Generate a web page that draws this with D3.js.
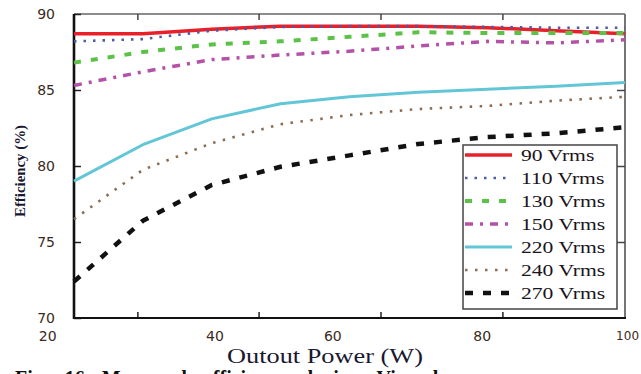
<!DOCTYPE html>
<html>
<head>
<meta charset="utf-8">
<script src="https://cdn.jsdelivr.net/npm/d3@7"></script>
<style>
  body { margin: 0; background: #fff; }
  svg { display: block; }
</style>
</head>
<body>
<div id="chart"></div>
<script>
// measured output power points (W)
const power = [20, 30, 40, 50, 60, 70, 80, 90, 100];

// efficiency (%) per input voltage
const eff90 = [88.7, 88.7, 89.0, 89.2, 89.2, 89.2, 89.1, 88.9, 88.7];
const eff110 = [88.2, 88.35, 88.9, 89.15, 89.2, 89.2, 89.15, 89.1, 89.1];
const eff130 = [86.8, 87.5, 88.0, 88.2, 88.5, 88.8, 88.75, 88.75, 88.75];
const eff150 = [85.3, 86.2, 87.0, 87.3, 87.55, 87.9, 88.2, 88.1, 88.3];
const eff220 = [79.0, 81.4, 83.1, 84.1, 84.55, 84.85, 85.05, 85.25, 85.5];
const eff240 = [76.5, 79.75, 81.5, 82.75, 83.35, 83.75, 83.95, 84.3, 84.55];
const eff270 = [72.4, 76.4, 78.75, 79.95, 80.7, 81.45, 81.9, 82.15, 82.55];

const seriesNames = ['90 Vrms', '110 Vrms', '130 Vrms', '150 Vrms', '220 Vrms', '240 Vrms', '270 Vrms'];

// tick labels (and where the scan put them), tick marks
const xLabels = ['20', '40', '60', '80', '100'];
const xLabelPos = [16.1, 40.4, 57.5, 79.2, 100.3];
const xMarks = [29.2, 46.8, 64.5, 82.2];
const yLabels = [70, 75, 80, 85, 90];
const yMarks = [75, 80, 85];

const styles = [
    { color: '#e8202a', width: 3.5, dash: null },
    { color: '#4b5ba5', width: 2.6, dash: '2.5,7' },
    { color: '#5cc247', width: 4, dash: '7,10' },
    { color: '#b452a8', width: 3.5, dash: '8,7,3,7' },
    { color: '#62c6d6', width: 3, dash: null },
    { color: '#8c6c55', width: 2.6, dash: '2.5,7.5' },
    { color: '#111111', width: 4.5, dash: '8,10' }
];
const allSeries = [eff90, eff110, eff130, eff150, eff220, eff240, eff270];

const W = 641, H = 374;
const svg = d3.select('#chart').append('svg')
    .attr('width', W)
    .attr('height', H);

const x = d3.scaleLinear().domain([20, 100]).range([74, 625]);
const y = d3.scaleLinear().domain([70, 90]).range([318, 14]);

// frame: light top/right, heavy left/bottom
svg.append('line').attr('x1', x(20)).attr('x2', x(100)).attr('y1', y(90)).attr('y2', y(90))
    .attr('stroke', '#666').attr('stroke-width', 1.6);
svg.append('line').attr('x1', x(100)).attr('x2', x(100)).attr('y1', y(90)).attr('y2', y(70))
    .attr('stroke', '#666').attr('stroke-width', 1.8);

// top and right tick marks (inward)
svg.append('g')
    .attr('transform', `translate(0,${y(90)})`)
    .call(d3.axisTop(x).tickValues(xMarks).tickSizeInner(-6).tickSizeOuter(0).tickFormat(''))
    .call(g => g.select('.domain').remove())
    .call(g => g.selectAll('.tick line').attr('stroke', '#444').attr('stroke-width', 1.5));
svg.append('g')
    .attr('transform', `translate(${x(100)},0)`)
    .call(d3.axisRight(y).tickValues(yMarks).tickSizeInner(-8).tickSizeOuter(0).tickFormat(''))
    .call(g => g.select('.domain').remove())
    .call(g => g.selectAll('.tick line').attr('stroke', '#444').attr('stroke-width', 1.5));

// bottom tick marks
svg.append('g')
    .attr('transform', `translate(0,${y(70)})`)
    .call(d3.axisBottom(x).tickValues(xMarks).tickSizeInner(-6).tickSizeOuter(0).tickFormat(''))
    .call(g => g.select('.domain').remove())
    .call(g => g.selectAll('.tick line').attr('stroke', '#222').attr('stroke-width', 1.5));

// bottom labels
svg.append('g')
    .attr('transform', `translate(0,${y(70)})`)
    .call(d3.axisBottom(x).tickValues(xLabelPos).tickSize(0).tickPadding(13)
        .tickFormat((d, i) => xLabels[i]))
    .call(g => g.select('.domain').remove())
    .call(g => g.selectAll('.tick text')
        .attr('font-family', 'DejaVu Sans, sans-serif')
        .attr('font-size', (d, i) => i === 4 ? 12 : 14)
        .attr('fill', '#3a2a20'));

// left axis
svg.append('g')
    .attr('transform', `translate(${x(20)},0)`)
    .call(d3.axisLeft(y).tickValues(yLabels).tickSizeInner(-7).tickSizeOuter(0).tickPadding(19))
    .call(g => g.select('.domain').remove())
    .call(g => g.selectAll('.tick line').attr('stroke', '#222').attr('stroke-width', 1.5))
    .call(g => g.selectAll('.tick text')
        .attr('font-family', 'DejaVu Sans, sans-serif')
        .attr('font-size', 14)
        .attr('fill', '#3a2a20'));

// heavy left / bottom lines
svg.append('line').attr('x1', x(20)).attr('x2', x(20)).attr('y1', y(90)).attr('y2', y(70) + 1)
    .attr('stroke', '#111').attr('stroke-width', 2.6);
svg.append('line').attr('x1', x(20)).attr('x2', x(100) + 1).attr('y1', y(70)).attr('y2', y(70))
    .attr('stroke', '#111').attr('stroke-width', 2.2);

// curves
const line = d3.line()
    .x((d, i) => x(power[i]))
    .y(d => y(d));

allSeries.forEach((s, i) => {
    svg.append('path')
        .datum(s)
        .attr('fill', 'none')
        .attr('stroke', styles[i].color)
        .attr('stroke-width', styles[i].width)
        .attr('stroke-dasharray', styles[i].dash)
        .attr('stroke-linejoin', 'round')
        .attr('d', line);
});

// legend
const legend = svg.append('g');
legend.append('rect')
    .attr('x', 463).attr('y', 145)
    .attr('width', 154).attr('height', 164)
    .attr('fill', '#fff')
    .attr('stroke', '#444')
    .attr('stroke-width', 1.5);

seriesNames.forEach((name, i) => {
    const ly = 155 + i * 23;
    legend.append('line')
        .attr('x1', 465).attr('x2', 512)
        .attr('y1', ly).attr('y2', ly)
        .attr('stroke', styles[i].color)
        .attr('stroke-width', styles[i].width)
        .attr('stroke-dasharray', styles[i].dash);
    const t = legend.append('text')
        .attr('x', 521).attr('y', ly + 5.5)
        .attr('font-family', 'Liberation Serif, serif')
        .attr('font-size', 16)
        .attr('fill', '#1a1420')
        .text(name);
    const len = t.node().getComputedTextLength();
    t.attr('textLength', len * 1.35).attr('lengthAdjust', 'spacingAndGlyphs');
});

// axis titles
svg.append('text')
    .attr('x', 325).attr('y', 363)
    .attr('text-anchor', 'middle')
    .attr('font-family', 'Liberation Serif, serif')
    .attr('font-size', 21)
    .attr('fill', '#1a1830')
    .attr('textLength', 196)
    .attr('lengthAdjust', 'spacingAndGlyphs')
    .text('Outout Power (W)');

svg.append('text')
    .attr('transform', 'translate(25,171) rotate(-90)')
    .attr('text-anchor', 'middle')
    .attr('font-family', 'Liberation Serif, serif')
    .attr('font-weight', 'bold')
    .attr('font-size', 15)
    .attr('fill', '#1a1830')
    .attr('textLength', 92)
    .attr('lengthAdjust', 'spacingAndGlyphs')
    .text('Efficiency (%)');

// caption, cut off by the picture edge as in the scan
svg.append('text')
    .attr('x', 15).attr('y', 385)
    .attr('font-family', 'Liberation Serif, serif')
    .attr('font-weight', 'bold')
    .attr('font-size', 20)
    .attr('fill', '#111')
    .attr('word-spacing', 12)
    .text('Fig. 16 Measured efficiency during Vin change');
</script>
</body>
</html>
